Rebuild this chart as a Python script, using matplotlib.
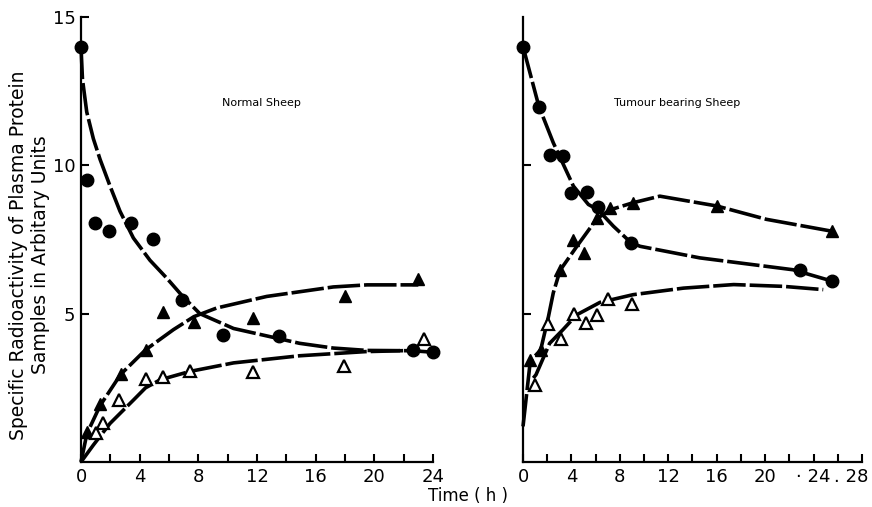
import matplotlib
matplotlib.use("Agg")
import matplotlib.pyplot as plt
from matplotlib.ticker import MultipleLocator
from matplotlib.transforms import ScaledTranslation

# ---- Normal sheep (left panel) ----
n_circ_x = [0, 0.4, 0.95, 1.9, 3.4, 4.9, 6.9, 9.7, 13.5, 22.6, 24.0]
n_circ_y = [14.0, 9.5, 8.07, 7.77, 8.04, 7.53, 5.47, 4.29, 4.26, 3.78, 3.7]
n_ftri_x = [0.4, 1.3, 2.7, 4.4, 5.6, 7.7, 11.7, 18.0, 23.0]
n_ftri_y = [1.0, 1.95, 2.97, 3.78, 5.07, 4.73, 4.86, 5.6, 6.17]
n_otri_x = [1.05, 1.5, 2.6, 4.4, 5.6, 7.4, 11.7, 17.9, 23.4]
n_otri_y = [0.98, 1.32, 2.09, 2.8, 2.87, 3.08, 3.04, 3.24, 4.16]

n_circ_fit_x = [0, 0.1, 0.39, 0.84, 1.3, 1.98, 2.66, 3.57, 4.7, 5.84, 6.9, 8.1, 10.4, 12.66, 14.9, 17.2, 19.5, 22.6, 24.0]
n_circ_fit_y = [14.0, 12.9, 11.8, 10.9, 10.2, 9.3, 8.45, 7.55, 6.8, 6.2, 5.6, 5.0, 4.5, 4.25, 4.0, 3.84, 3.76, 3.75, 3.7]
n_ftri_fit_x = [0, 0.4, 1.3, 2.7, 4.4, 6.3, 7.7, 9.25, 12.66, 17.2, 19.5, 23.0]
n_ftri_fit_y = [0, 0.95, 1.9, 2.95, 3.78, 4.46, 4.9, 5.19, 5.58, 5.9, 5.97, 5.97]
n_otri_fit_x = [0, 0.84, 1.98, 3.6, 4.4, 5.4, 7.4, 10.4, 14.9, 19.4, 22.6]
n_otri_fit_y = [0, 0.57, 1.3, 2.1, 2.5, 2.77, 3.05, 3.34, 3.58, 3.72, 3.76]

# ---- Tumour bearing sheep (right panel) ----
t_circ_x = [0, 1.3, 2.2, 3.3, 4.0, 5.3, 6.2, 8.9, 22.9, 25.5]
t_circ_y = [14.0, 11.97, 10.34, 10.3, 9.05, 9.1, 8.6, 7.39, 6.46, 6.09]
t_ftri_x = [0.58, 1.46, 3.06, 4.1, 5.0, 6.1, 7.2, 9.1, 16.0, 25.5]
t_ftri_y = [3.45, 3.78, 6.46, 7.48, 7.03, 8.23, 8.55, 8.74, 8.63, 7.78]
t_otri_x = [1.0, 2.1, 3.1, 4.2, 5.2, 6.1, 7.0, 9.0]
t_otri_y = [2.6, 4.66, 4.15, 5.0, 4.68, 4.94, 5.5, 5.34]

t_circ_fit_x = [0, 1.3, 2.5, 4.16, 5.4, 6.2, 7.46, 8.9, 9.67, 14.6, 22.3, 25.5]
t_circ_fit_y = [14.0, 12.0, 10.76, 9.3, 8.68, 8.5, 7.95, 7.4, 7.27, 6.88, 6.48, 6.1]
t_ftri_fit_x = [0, 0.6, 1.46, 2.1, 2.5, 3.06, 4.5, 6.1, 7.2, 9.1, 11.3, 16.0, 20.1, 25.5]
t_ftri_fit_y = [1.2, 3.4, 3.78, 4.9, 5.7, 6.46, 7.3, 8.2, 8.5, 8.74, 8.96, 8.63, 8.18, 7.78]
t_otri_fit_x = [0.85, 1.07, 2.2, 3.3, 4.43, 6.36, 9.1, 13.25, 17.4, 21.5, 24.8]
t_otri_fit_y = [2.83, 2.94, 4.0, 4.46, 4.96, 5.38, 5.64, 5.86, 5.98, 5.92, 5.81]

left_xticks = [0, 4, 8, 12, 16, 20, 24]
left_xlabels = ["0", "4", "8", "12", "16", "20", "24"]
right_xticks = [0, 4, 8, 12, 16, 20, 24, 28]
right_xlabels = ["0", "4", "8", "12", "16", "20", "\u00b7 24", ". 28"]
yticks = [5, 10, 15]
ylabels = ["5", "10", "15"]

plt.rcParams["font.family"] = ["DejaVu Sans"]

fig = plt.figure(figsize=(8.72, 5.07), dpi=100)
ax1 = fig.add_axes([0.0929, 0.0888, 0.4037, 0.8777])
ax2 = fig.add_axes([0.5998, 0.0888, 0.3887, 0.8777])

LW = 2.6
DASH = (0, (9, 1.1))
MS = 9


def style_axis(ax, xmax, xticks, xlabels, show_ylabels):
    ax.set_xlim(0, xmax)
    ax.set_ylim(0, 15)
    for s in ("top", "right"):
        ax.spines[s].set_visible(False)
    for s in ("left", "bottom"):
        ax.spines[s].set_linewidth(1.6)
    ax.set_xticks(xticks)
    ax.set_xticklabels(xlabels)
    ax.xaxis.set_minor_locator(MultipleLocator(2))
    if show_ylabels:
        ax.set_yticks(yticks)
        ax.set_yticklabels(ylabels)
    else:
        ax.set_yticks(yticks[:2])
        ax.set_yticklabels([])
    ax.tick_params(axis="both", which="both", direction="in", length=6, width=1.5,
                   labelsize=13, pad=4)


def draw(ax, cfx, cfy, ffx, ffy, ofx, ofy, cx, cy, fx, fy, ox, oy):
    ax.plot(cfx, cfy, color="black", lw=LW, linestyle=DASH, clip_on=False)
    ax.plot(ffx, ffy, color="black", lw=LW, linestyle=DASH, clip_on=False)
    ax.plot(ofx, ofy, color="black", lw=LW, linestyle=DASH, clip_on=False)
    ax.plot(cx, cy, "o", color="black", ms=MS, clip_on=False, zorder=5)
    ax.plot(fx, fy, "^", color="black", ms=MS, clip_on=False, zorder=5)
    ax.plot(ox, oy, "^", mfc="white", mec="black", mew=1.6, ms=MS, clip_on=False, zorder=5)


draw(ax1, n_circ_fit_x, n_circ_fit_y, n_ftri_fit_x, n_ftri_fit_y, n_otri_fit_x, n_otri_fit_y,
     n_circ_x, n_circ_y, n_ftri_x, n_ftri_y, n_otri_x, n_otri_y)
draw(ax2, t_circ_fit_x, t_circ_fit_y, t_ftri_fit_x, t_ftri_fit_y, t_otri_fit_x, t_otri_fit_y,
     t_circ_x, t_circ_y, t_ftri_x, t_ftri_y, t_otri_x, t_otri_y)

style_axis(ax1, 24, left_xticks, left_xlabels, True)
style_axis(ax2, 28, right_xticks, right_xlabels, False)

# keep the last right-panel label inside the figure, as in the original
last = ax2.get_xticklabels()[-1]
last.set_ha("right")
last.set_transform(last.get_transform() + ScaledTranslation(0.06, 0, fig.dpi_scale_trans))

ax1.text(12.3, 12.1, "Normal Sheep", fontsize=8, ha="center", va="center")
ax2.text(12.7, 12.1, "Tumour bearing Sheep", fontsize=8, ha="center", va="center")

fig.text(0.034, 0.497, "Specific Radioactivity of Plasma Protein\nSamples in Arbitary Units",
         rotation=90, ha="center", va="center", fontsize=13.5, linespacing=1.2)
fig.text(0.537, 0.022, "Time ( h )", ha="center", va="center", fontsize=12)

fig.savefig("out.png", dpi=100)
